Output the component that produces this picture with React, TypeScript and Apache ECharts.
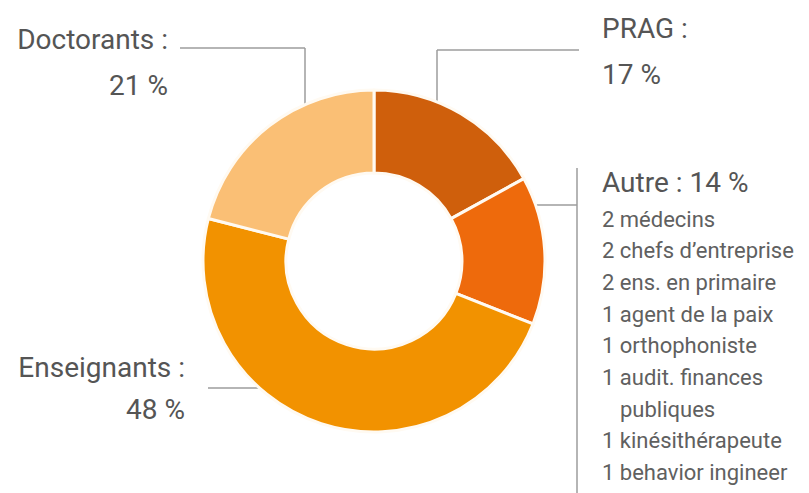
import React, { useEffect, useRef } from "react";
import * as echarts from "echarts";

// ---- data ----
const categories = ["PRAG", "Autre", "Enseignants", "Doctorants"];
const values = [17, 14, 48, 21];
const sliceColors = ["#cf5f0c", "#ee6a0c", "#f29200", "#fabf75"];
const autreDetails = [
  "2 médecins",
  "2 chefs d’entreprise",
  "2 ens. en primaire",
  "1 agent de la paix",
  "1 orthophoniste",
  "1 audit. finances\npubliques",
  "1 kinésithérapeute",
  "1 behavior ingineer",
];

// ---- layout ----
const W = 809;
const H = 493;
const CX = 374;
const CY = 261;
const R_IN = 88;
const R_OUT = 171;
const FONT = "Roboto, 'Liberation Sans', sans-serif";
const TITLE_SIZE = 28;
const BODY_SIZE = 22;
const TITLE_COLOR = "#555555";
const BODY_COLOR = "#606060";
const LINE_COLOR = "#9c9c9c";

function edgeYTop(x: number) {
  const dx = x - CX;
  const r = R_OUT - 6;
  return CY - Math.sqrt(r * r - dx * dx);
}
function edgeXFor(y: number, side: number) {
  const dy = y - CY;
  const r = R_OUT - 6;
  return CX + side * Math.sqrt(r * r - dy * dy);
}

function txt(text: string, x: number, y: number, size: number, color: string, align: string) {
  return {
    type: "text",
    x,
    y,
    silent: true,
    style: {
      text,
      fill: color,
      fontSize: size,
      fontFamily: FONT,
      align,
      textAlign: align,
      verticalAlign: "middle",
      textVerticalAlign: "middle",
    },
  };
}

function line(x1: number, y1: number, x2: number, y2: number) {
  return {
    type: "line",
    silent: true,
    shape: { x1, y1, x2, y2 },
    style: { stroke: LINE_COLOR, lineWidth: 1.5 },
  };
}

export default function App() {
  const ref = useRef<HTMLDivElement>(null);

  useEffect(() => {
    if (!ref.current) return;
    const chart = echarts.init(ref.current, undefined, { renderer: "svg" });

    const idx = (n: string) => categories.indexOf(n);
    const iPrag = idx("PRAG");
    const iAutre = idx("Autre");
    const iEns = idx("Enseignants");
    const iDoc = idx("Doctorants");

    const elements: any[] = [];

    // Doctorants (top-left)
    elements.push(line(180, 48, 305, 48));
    elements.push(line(305, 48, 305, edgeYTop(305)));
    elements.push(txt(`${categories[iDoc]} :`, 168, 39, TITLE_SIZE, TITLE_COLOR, "right"));
    elements.push(txt(`${values[iDoc]} %`, 168, 85, TITLE_SIZE, TITLE_COLOR, "right"));

    // PRAG (top-right)
    elements.push(line(437, 50, 579, 50));
    elements.push(line(437, 50, 437, edgeYTop(437)));
    elements.push(txt(`${categories[iPrag]} :`, 602, 28, TITLE_SIZE, TITLE_COLOR, "left"));
    elements.push(txt(`${values[iPrag]} %`, 602, 74, TITLE_SIZE, TITLE_COLOR, "left"));

    // Autre (right)
    elements.push(line(edgeXFor(205, 1), 205, 577, 205));
    elements.push(line(577, 168, 577, H));
    elements.push(
      txt(`${categories[iAutre]} : ${values[iAutre]} %`, 602, 182, TITLE_SIZE, TITLE_COLOR, "left")
    );
    let row = 0;
    autreDetails.forEach((item) => {
      const parts = item.split("\n");
      parts.forEach((p, k) => {
        elements.push(txt(p, k === 0 ? 602 : 620, 219 + row * 31.7, BODY_SIZE, BODY_COLOR, "left"));
        row++;
      });
    });

    // Enseignants (left)
    elements.push(line(208, 388, edgeXFor(388, -1), 388));
    elements.push(txt(`${categories[iEns]} :`, 185, 367, TITLE_SIZE, TITLE_COLOR, "right"));
    elements.push(txt(`${values[iEns]} %`, 185, 409, TITLE_SIZE, TITLE_COLOR, "right"));

    chart.setOption({
      animation: false,
      backgroundColor: "#ffffff",
      graphic: { elements },
      series: [
        {
          type: "pie",
          center: [CX, CY],
          radius: [R_IN, R_OUT],
          startAngle: 90,
          clockwise: true,
          silent: true,
          z: 5,
          label: { show: false },
          labelLine: { show: false },
          emphasis: { disabled: true },
          itemStyle: { borderColor: "#fffaf2", borderWidth: 3 },
          data: categories.map((c, i) => ({
            name: c,
            value: values[i],
            itemStyle: { color: sliceColors[i] },
          })),
        },
      ],
    });

    return () => chart.dispose();
  }, []);

  return (
    <div
      ref={ref}
      style={{ position: "fixed", left: 0, top: 0, width: W, height: H }}
    />
  );
}
